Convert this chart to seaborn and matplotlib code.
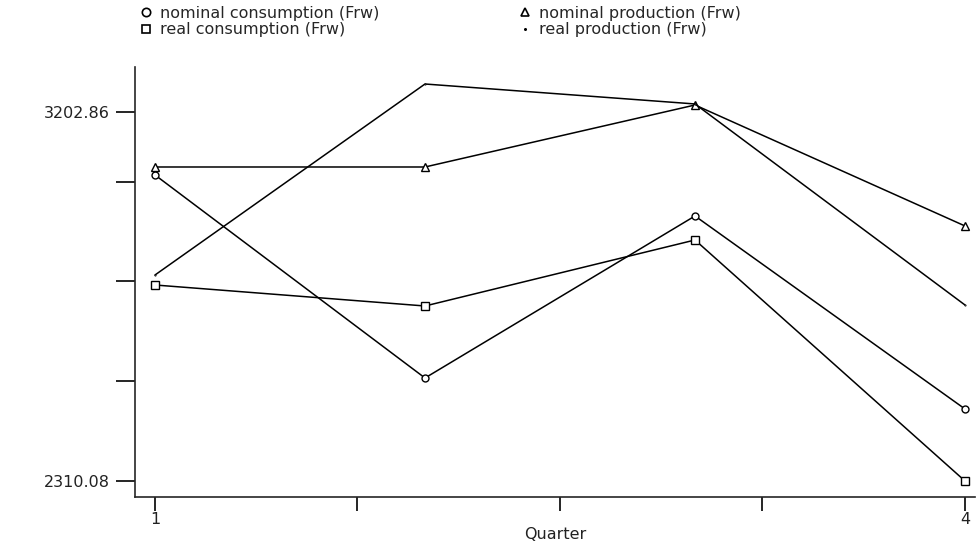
import numpy as np
import pandas as pd
import matplotlib
matplotlib.use("Agg")
import matplotlib.pyplot as plt
from matplotlib.lines import Line2D
import seaborn as sns

quarters = [1, 2, 3, 4]
nominal_consumption = [3050.5, 2559.3, 2951.3, 2484.3]
real_consumption = [2784.3, 2733.5, 2893.2, 2310.08]
nominal_production = [3069.8, 3069.8, 3219.8, 2927.1]
real_production = [2808.5, 3270.6, 3222.3, 2735.9]

series_names = [
    "nominal consumption (Frw)",
    "real consumption (Frw)",
    "nominal production (Frw)",
    "real production (Frw)",
]
y_min_label = 2310.08
y_max_label = 3202.86

df = pd.DataFrame({
    "Quarter": quarters * 4,
    "value": nominal_consumption + real_consumption + nominal_production + real_production,
    "series": np.repeat(series_names, len(quarters)),
})

sns.set_style("ticks")
plt.rcParams["font.family"] = ["DejaVu Sans"]

marker_map = {
    series_names[0]: "o",
    series_names[1]: "s",
    series_names[2]: "^",
    series_names[3]: ".",
}
size_map = {
    series_names[0]: 5,
    series_names[1]: 6,
    series_names[2]: 6,
    series_names[3]: 1,
}

fig = plt.figure(figsize=(9.76, 5.43), dpi=100)
ax = fig.add_axes([135 / 976, 1 - 497 / 543, 840 / 976, 430 / 543])

sns.lineplot(
    data=df,
    x="Quarter",
    y="value",
    hue="series",
    style="series",
    palette=["black"] * 4,
    markers=marker_map,
    dashes=False,
    linewidth=1.1,
    markerfacecolor="white",
    markeredgecolor="black",
    markeredgewidth=1.0,
    markersize=5,
    legend=False,
    ax=ax,
)
# adjust marker sizes per series
for line, name in zip(ax.get_lines(), series_names):
    line.set_markersize(size_map[name])

ax.set_xlim(1 - 20 / 270, 4 + 10 / 270)
px = 892.78 / 369
ax.set_ylim(y_min_label - 16 * px, y_min_label + 414 * px)

ax.set_xticks([1, 1.75, 2.5, 3.25, 4])
ax.set_xticklabels(["1", "", "", "", "4"])
yt = [y_min_label, y_min_label + 100 * px, y_min_label + 200 * px, y_min_label + 299 * px, y_max_label]
ax.set_yticks(yt)
ax.set_yticklabels(["2310.08", "", "", "", "3202.86"])
ax.tick_params(axis="y", length=14, width=1.2, labelsize=11.5, pad=4, colors="black")
ax.tick_params(axis="x", length=10, width=1.2, labelsize=11.5, pad=1, colors="black")
for lab in ax.get_yticklabels() + ax.get_xticklabels():
    lab.set_color("#222222")

sns.despine(ax=ax)
ax.spines["left"].set_linewidth(1.2)
ax.spines["bottom"].set_linewidth(1.2)
ax.set_xlabel("Quarter", fontsize=11.5, labelpad=0, color="#222222")
ax.set_ylabel("")

handles = [
    Line2D([], [], linestyle="none", marker=marker_map[n], markersize=6 if n != series_names[3] else 2,
           markerfacecolor="white", markeredgecolor="black", markeredgewidth=1.2)
    for n in series_names
]
fig.legend(
    handles, series_names,
    loc="upper left", bbox_to_anchor=(130 / 976, 1.01),
    ncol=2, frameon=False, fontsize=11.5,
    handlelength=0.6, handletextpad=0.6, columnspacing=8.8,
    labelspacing=0.1, borderpad=0.2,
)

fig.savefig("out.png", dpi=100)
